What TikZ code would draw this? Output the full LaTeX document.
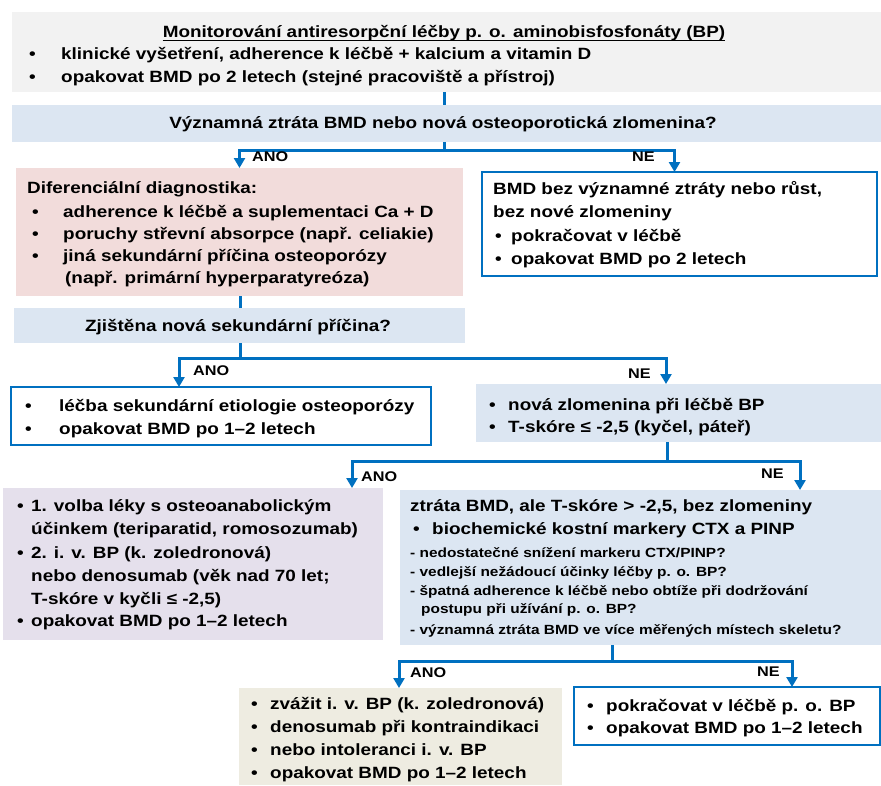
\documentclass[tikz,border=0pt]{standalone}
\usepackage{fontspec}
\setmainfont{Liberation Sans}[FakeStretch=1.16]
\usetikzlibrary{arrows.meta,calc}
\definecolor{flowblue}{HTML}{0070C0}
\definecolor{grayfill}{HTML}{F2F2F2}
\definecolor{bluefill}{HTML}{DCE6F2}
\definecolor{pinkfill}{HTML}{F2DCDB}
\definecolor{purplefill}{HTML}{E5E0EC}
\definecolor{beigefill}{HTML}{EEECE1}
\begin{document}
\begin{tikzpicture}[x=1pt,y=-1pt,
  fillbox/.style={draw=none, inner sep=0pt, outer sep=0pt, anchor=north west},
  framebox/.style={draw=flowblue, line width=2pt, fill=white, inner sep=0pt, outer sep=0pt, anchor=north west},
  txt/.style={anchor=mid west, inner sep=0pt, font=\fontsize{16.3}{19}\selectfont\bfseries},
  ctxt/.style={anchor=mid, inner sep=0pt, font=\fontsize{16.3}{19}\selectfont\bfseries},
  small/.style={anchor=mid west, inner sep=0pt, font=\fontsize{13.3}{15}\selectfont\bfseries},
  lbl/.style={anchor=mid west, inner sep=0pt, font=\fontsize{14}{16}\selectfont\bfseries},
  flow/.style={draw=flowblue, line width=3pt},
  flowarrow/.style={draw=flowblue, line width=3pt, -{Triangle[length=10pt,width=11pt]}},
]
\useasboundingbox (0,0) rectangle (881,785);
\fill[white] (0,0) rectangle (881,785);

% boxes
\node[fillbox, fill=grayfill, minimum width=869pt, minimum height=80pt] (b1) at (12,12) {};
\node[fillbox, fill=bluefill, minimum width=869pt, minimum height=37pt] (b2) at (12,105) {};
\node[fillbox, fill=pinkfill, minimum width=447pt, minimum height=128pt] (b3) at (16,168) {};
\node[framebox, minimum width=395pt, minimum height=104pt] (b4) at (482,172) {};
\node[fillbox, fill=bluefill, minimum width=451pt, minimum height=35pt] (b5) at (14,308) {};
\node[framebox, minimum width=420pt, minimum height=58pt] (b6) at (11,387) {};
\node[fillbox, fill=bluefill, minimum width=405pt, minimum height=58pt] (b7) at (476,384) {};
\node[fillbox, fill=purplefill, minimum width=380pt, minimum height=152pt] (b8) at (3,488) {};
\node[fillbox, fill=bluefill, minimum width=481pt, minimum height=155pt] (b9) at (400,490) {};
\node[fillbox, fill=beigefill, minimum width=323pt, minimum height=97pt] (b10) at (239,688) {};
\node[framebox, minimum width=306pt, minimum height=58pt] (b11) at (574,687) {};

% box 1 text
\node[ctxt] (t1) at (444,35) {Monitorování antiresorpční léčby p. o. aminobisfosfonáty (BP)};
\draw[line width=1pt] ([yshift=-2.5pt]t1.base west) -- ([yshift=-2.5pt]t1.base east);
\node[txt] (t1b1) at (29,57) {•};
\node[txt] (t1l1) at (61,57) {klinické vyšetření, adherence k léčbě + kalcium a vitamin D};
\node[txt] (t1b2) at (29,80) {•};
\node[txt] (t1l2) at (61,80) {opakovat BMD po 2 letech (stejné pracoviště a přístroj)};

% box 2 text
\node[ctxt] (t2) at (443,126) {Významná ztráta BMD nebo nová osteoporotická zlomenina?};

% box 3 text
\node[txt] (t3h) at (27,191) {Diferenciální diagnostika:};
\node[txt] (t3b1) at (32,215) {•};
\node[txt] (t3l1) at (63,215) {adherence k léčbě a suplementaci Ca + D};
\node[txt] (t3b2) at (32,237) {•};
\node[txt] (t3l2) at (63,237) {poruchy střevní absorpce (např. celiakie)};
\node[txt] (t3b3) at (32,259) {•};
\node[txt] (t3l3) at (63,259) {jiná sekundární příčina osteoporózy};
\node[txt] (t3l4) at (65,281) {(např. primární hyperparatyreóza)};

% box 4 text
\node[txt] (t4l1) at (493,192) {BMD bez významné ztráty nebo růst,};
\node[txt] (t4l2) at (493,215) {bez nové zlomeniny};
\node[txt] (t4b1) at (495,239) {•};
\node[txt] (t4l3) at (511,239) {pokračovat v léčbě};
\node[txt] (t4b2) at (495,262) {•};
\node[txt] (t4l4) at (511,262) {opakovat BMD po 2 letech};

% box 5 text
\node[ctxt] (t5) at (238,329) {Zjištěna nová sekundární příčina?};

% box 6 text
\node[txt] (t6b1) at (25,409) {•};
\node[txt] (t6l1) at (59,409) {léčba sekundární etiologie osteoporózy};
\node[txt] (t6b2) at (25,432) {•};
\node[txt] (t6l2) at (59,432) {opakovat BMD po 1–2 letech};

% box 7 text
\node[txt] (t7b1) at (489,408) {•};
\node[txt] (t7l1) at (508,408) {nová zlomenina při léčbě BP};
\node[txt] (t7b2) at (489,430) {•};
\node[txt] (t7l2) at (508,430) {T-skóre ≤ -2,5 (kyčel, páteř)};

% box 8 text
\node[txt] (t8b1) at (17,509) {•};
\node[txt] (t8l1) at (31,509) {1. volba léky s osteoanabolickým};
\node[txt] (t8l2) at (31,532) {účinkem (teriparatid, romosozumab)};
\node[txt] (t8b2) at (17,556) {•};
\node[txt] (t8l3) at (31,556) {2. i. v. BP (k. zoledronová)};
\node[txt] (t8l4) at (31,579) {nebo denosumab (věk nad 70 let;};
\node[txt] (t8l5) at (31,602) {T-skóre v kyčli ≤ -2,5)};
\node[txt] (t8b3) at (17,624) {•};
\node[txt] (t8l6) at (31,624) {opakovat BMD po 1–2 letech};

% box 9 text
\node[txt] (t9l1) at (410,509) {ztráta BMD, ale T-skóre > -2,5, bez zlomeniny};
\node[txt] (t9b1) at (413,532) {•};
\node[txt] (t9l2) at (432,532) {biochemické kostní markery CTX a PINP};
\node[small] (t9s1) at (410,555) {- nedostatečné snížení markeru CTX/PINP?};
\node[small] (t9s2) at (410,574) {- vedlejší nežádoucí účinky léčby p. o. BP?};
\node[small] (t9s3) at (410,593) {- špatná adherence k léčbě nebo obtíže při dodržování};
\node[small] (t9s4) at (421,611) {postupu při užívání p. o. BP?};
\node[small] (t9s5) at (410,632) {- významná ztráta BMD ve více měřených místech skeletu?};

% box 10 text
\node[txt] (t10b1) at (251,707) {•};
\node[txt] (t10l1) at (270,707) {zvážit i. v. BP (k. zoledronová)};
\node[txt] (t10b2) at (251,730) {•};
\node[txt] (t10l2) at (270,730) {denosumab při kontraindikaci};
\node[txt] (t10b3) at (251,753) {•};
\node[txt] (t10l3) at (270,753) {nebo intoleranci i. v. BP};
\node[txt] (t10b4) at (251,776) {•};
\node[txt] (t10l4) at (270,776) {opakovat BMD po 1–2 letech};

% box 11 text
\node[txt] (t11b1) at (587,709) {•};
\node[txt] (t11l1) at (606,709) {pokračovat v léčbě p. o. BP};
\node[txt] (t11b2) at (587,731) {•};
\node[txt] (t11l2) at (606,731) {opakovat BMD po 1–2 letech};

% junctions
\coordinate (j1) at (444,150);
\coordinate (j2) at (240,358);
\coordinate (j3) at (667,461);
\coordinate (j4) at (612,661);

% connectors
\draw[flow] (b1.south -| j1) -- (b2.north -| j1);
\draw[flow] (b2.south -| j1) -- (j1);
\draw[flowarrow] (j1) -| ([xshift=-5pt]b4.north);
\draw[flowarrow] (j1) -| (b3.north);
\node[lbl] (ano1) at (252,159) {ANO};
\node[lbl] (ne1) at (632,159) {NE};

\draw[flow] (b3.south -| j2) -- (b5.north -| j2);
\draw[flow] (b5.south -| j2) -- (j2);
\draw[flowarrow] (j2) -| ([xshift=168pt]b6.north west);
\draw[flowarrow] (j2) -| ([xshift=190pt]b7.north west);
\node[lbl] (ano2) at (193,373) {ANO};
\node[lbl] (ne2) at (628,376) {NE};

\draw[flow] (b7.south -| j3) -- (j3);
\draw[flowarrow] (j3) -| ([xshift=349pt]b8.north west);
\draw[flowarrow] (j3) -| ([xshift=400pt]b9.north west);
\node[lbl] (ano3) at (361,479) {ANO};
\node[lbl] (ne3) at (761,476) {NE};

\draw[flow] (b9.south -| j4) -- (j4);
\draw[flowarrow] (j4) -| ([xshift=160pt]b10.north west);
\draw[flowarrow] (j4) -| ([xshift=218pt]b11.north west);
\node[lbl] (ano4) at (410,675) {ANO};
\node[lbl] (ne4) at (757,674) {NE};
\end{tikzpicture}
\end{document}
